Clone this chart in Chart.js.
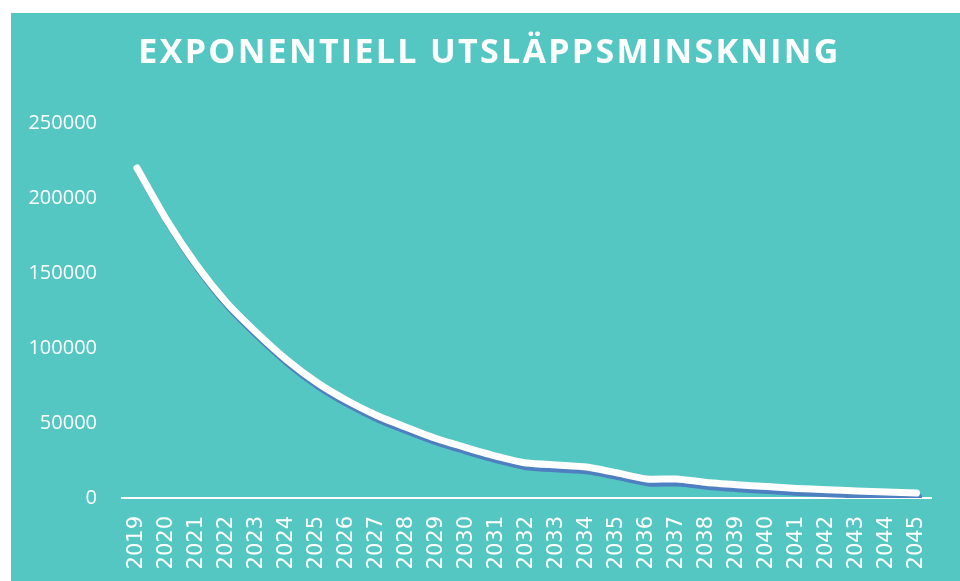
<!DOCTYPE html>
<html>
<head>
<meta charset="utf-8">
<script src="https://cdn.jsdelivr.net/npm/chart.js@4/dist/chart.umd.min.js"></script>
<style>
  html, body { margin: 0; padding: 0; background: #ffffff; }
  #panel { position: absolute; left: 11px; top: 13px; width: 949px; height: 568px; background: #54C7C3; }
  #title { position: absolute; left: 0; top: 15px; width: 100%; text-align: center; color: #ffffff; padding-left: 8px; box-sizing: border-box;
           font-family: "Open Sans", sans-serif; font-weight: 700; font-size: 34px; letter-spacing: 2.3px; line-height: 44px; }
  #wrap { position: absolute; left: 0; top: 0; width: 949px; height: 568px; }
</style>
</head>
<body>
<div id="panel">
  <div id="wrap"><canvas id="c" width="949" height="568"></canvas></div>
  <div id="title">EXPONENTIELL UTSLÄPPSMINSKNING</div>
</div>
<script>
const years = ["2019","2020","2021","2022","2023","2024","2025","2026","2027","2028","2029","2030","2031","2032","2033","2034","2035","2036","2037","2038","2039","2040","2041","2042","2043","2044","2045"];
const emissions = [220000,185000,155000,130000,110000,92000,77000,65000,55000,47000,39500,33500,27800,23300,22000,20700,16800,12700,12700,10400,8900,7600,6400,5500,4700,4000,3300];
const yTicks = { min: 0, max: 250000, step: 50000 };

const shadowPlugin = {
  id: 'lineShadow',
  beforeDatasetsDraw(chart) {
    const ctx = chart.ctx;
    ctx.save();
    ctx.shadowColor = '#4E7FC0';
    ctx.shadowOffsetX = 2;
    ctx.shadowOffsetY = 4;
    ctx.shadowBlur = 0;
  },
  afterDatasetsDraw(chart) {
    chart.ctx.restore();
  }
};

new Chart(document.getElementById('c'), {
  type: 'line',
  data: {
    labels: years,
    datasets: [{
      data: emissions,
      borderColor: '#ffffff',
      borderWidth: 7,
      borderCapStyle: 'round',
      borderJoinStyle: 'round',
      tension: 0.2,
      pointRadius: 0,
      fill: false
    }]
  },
  options: {
    responsive: false,
    animation: false,
    layout: { padding: { top: 110, right: 16, left: 0, bottom: 0 } },
    plugins: { legend: { display: false }, tooltip: { enabled: false }, title: { display: false } },
    scales: {
      x: {
        offset: true,
        grid: { display: false, drawTicks: false },
        border: { display: true, color: '#ffffff', width: 2 },
        ticks: {
          color: '#ffffff',
          font: { family: "'DejaVu Sans'", size: 21 },
          maxRotation: 90, minRotation: 90,
          padding: 18,
          autoSkip: false
        },
        afterFit(scale) { scale.height = 83; }
      },
      y: {
        min: yTicks.min, max: yTicks.max,
        grid: { display: false, drawTicks: false },
        border: { display: false },
        ticks: {
          stepSize: yTicks.step,
          color: '#ffffff',
          font: { family: "'Open Sans'", size: 20 },
          padding: 25,
          callback: (v) => String(v)
        },
        afterFit(scale) { scale.width = 111; }
      }
    }
  },
  plugins: [shadowPlugin]
});
</script>
</body>
</html>
